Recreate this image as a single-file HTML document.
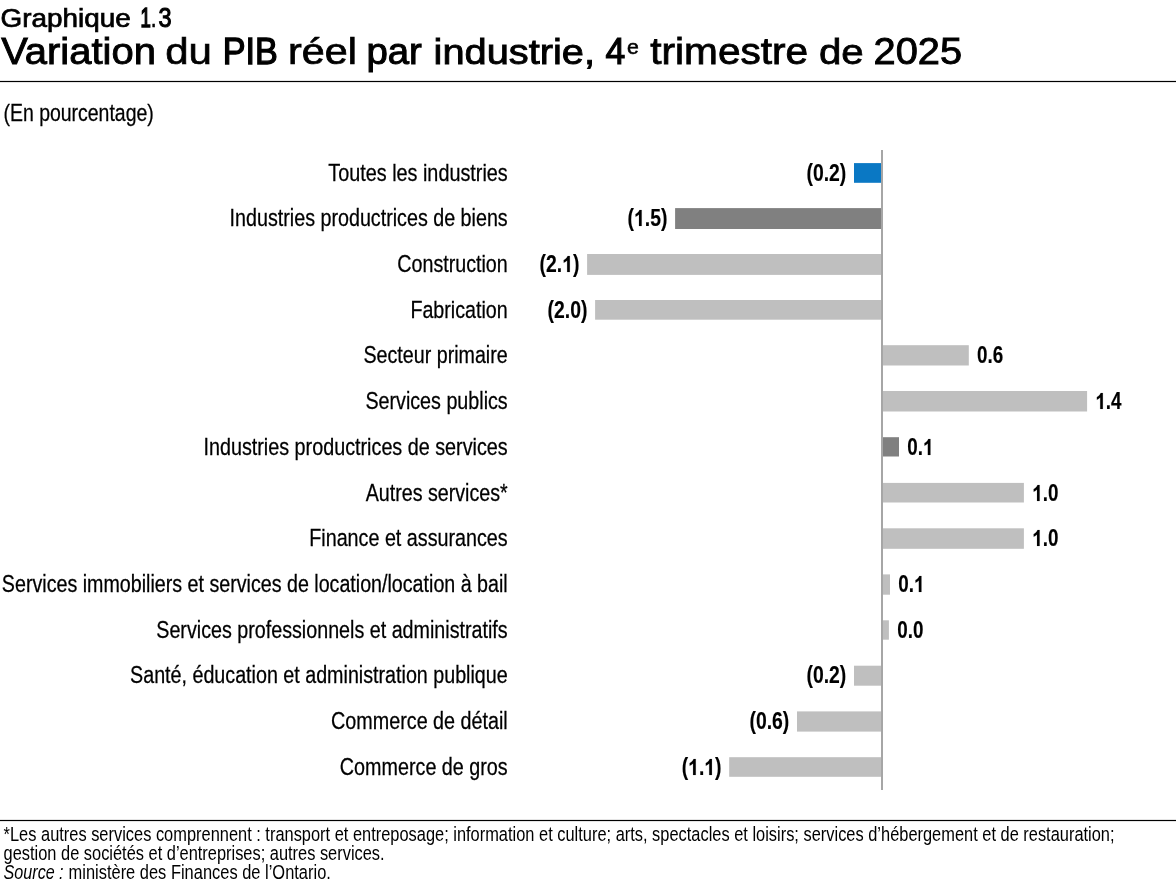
<!DOCTYPE html>
<html lang="fr"><head><meta charset="utf-8"><title>Graphique 1.3</title>
<style>
html,body{margin:0;padding:0;background:#fff;}
body{width:1176px;height:888px;overflow:hidden;font-family:"Liberation Sans",sans-serif;}
svg{will-change:transform;display:block;position:absolute;left:0;top:0}
text{font-family:"Liberation Sans",sans-serif;fill:#000}
.t1{font-size:25.8px;stroke:#000;stroke-width:.3px}
.t2{font-size:36px;stroke:#000;stroke-width:.45px}
.sup{font-size:20.5px;stroke:#000;stroke-width:.3px}
.lab{font-size:23.7px;stroke:#000;stroke-width:.26px}
.val{font-size:23.2px;font-weight:bold;stroke:#000;stroke-width:.15px}
.fn{font-size:19.3px}
.fi{font-style:italic}
.h{fill:none;stroke:none}
.one{fill:#000;stroke:#000;stroke-width:13px;stroke-linejoin:miter}
</style></head><body>
<svg width="1176" height="888" viewBox="0 0 1176 888">
<rect width="1176" height="888" fill="#fff"/>

<text class="t1" style="stroke-width:0.71px" transform="translate(0.60,26.5) scale(1.0815,1)">Graphique</text>
<text class="t1" style="stroke-width:1.50px" transform="translate(140.62,26.5) scale(0.7172,1.04)">1</text>
<text class="t1" style="stroke-width:0.55px" transform="translate(150.69,26.5) scale(0.8169,1.04)">.</text>
<text class="t1" style="stroke-width:1.05px" transform="translate(158.38,26.5) scale(0.9101,1.04)">3</text>
<text class="t2" style="stroke-width:0.88px" transform="translate(1.19,64) scale(1.1094,1)">Variation</text>
<text class="t2" style="stroke-width:0.63px" transform="translate(165.20,64) scale(1.1687,1)">du</text>
<text class="t2" style="stroke-width:1.30px" transform="translate(222.72,64) scale(0.9500,1)">PIB</text>
<text class="t2" style="stroke-width:0.71px" transform="translate(288.01,64) scale(1.1491,1)">réel</text>
<text class="t2" style="stroke-width:0.99px" transform="translate(366.40,64) scale(1.0659,1)">par</text>
<text class="t2" style="stroke-width:0.89px" transform="translate(433.58,64) scale(1.1059,1)">industrie,</text>
<text class="t2" style="stroke-width:1.16px" transform="translate(605.47,64) scale(0.9873,1.04)">4</text>
<text class="t2" style="stroke-width:0.81px" transform="translate(650.26,64) scale(1.1280,1)">trimestre</text>
<text class="t2" style="stroke-width:0.79px" transform="translate(818.92,64) scale(1.1183,1)">de</text>
<text class="t2" style="stroke-width:0.87px" transform="translate(873.58,64) scale(1.1059,1.04)">2025</text>
<text class="sup" style="stroke-width:0.55px" transform="translate(626.89,54.0) scale(1.0390,1)">e</text>
<rect x="0" y="80.9" width="1176" height="1.2" fill="#000"/>
<text class="lab" transform="translate(3.48,120.8) scale(0.8209,1)">(En pourcentage)</text>
<rect x="881.0" y="150" width="2" height="640" fill="#a6a6a6"/>
<rect x="854.0" y="163.1" width="27.0" height="19.7" fill="#0a78c4"/>
<text class="val" transform="translate(806.47,181.00) scale(0.835,1)">(0.2)</text>
<text class="lab" text-anchor="end" transform="translate(507.7,181.00) scale(0.8359,1)">Toutes les industries</text>
<rect x="675.1" y="208.1" width="205.9" height="20.9" fill="#808080"/>
<text class="val" transform="translate(627.57,226.00) scale(0.835,1)">(<tspan class="h">1</tspan>.5)</text>
<path class="one" d="M806 0H525V1059Q371 915 162 846V1101Q272 1137 401 1237.5T578 1472H806Z" transform="translate(634.02,226.00) scale(0.009459,-0.010889)"/>
<text class="lab" text-anchor="end" transform="translate(507.7,226.00) scale(0.8317,1)">Industries productrices de biens</text>
<rect x="587.1" y="254.0" width="293.9" height="20.9" fill="#bfbfbf"/>
<text class="val" transform="translate(539.57,272.00) scale(0.835,1)">(2.<tspan class="h">1</tspan>)</text>
<path class="one" d="M806 0H525V1059Q371 915 162 846V1101Q272 1137 401 1237.5T578 1472H806Z" transform="translate(562.18,272.00) scale(0.009459,-0.010889)"/>
<text class="lab" text-anchor="end" transform="translate(507.7,272.00) scale(0.8305,1)">Construction</text>
<rect x="595.1" y="300.0" width="285.9" height="19.7" fill="#bfbfbf"/>
<text class="val" transform="translate(547.57,318.00) scale(0.835,1)">(2.0)</text>
<text class="lab" text-anchor="end" transform="translate(507.7,318.00) scale(0.8306,1)">Fabrication</text>
<rect x="883.0" y="345.2" width="85.8" height="20.3" fill="#bfbfbf"/>
<text class="val" transform="translate(977.10,363.00) scale(0.812,1)">0.6</text>
<text class="lab" text-anchor="end" transform="translate(507.7,363.00) scale(0.8300,1)">Secteur primaire</text>
<rect x="883.0" y="391.0" width="204.1" height="20.5" fill="#bfbfbf"/>
<text class="val" transform="translate(1095.40,409.00) scale(0.812,1)"><tspan class="h">1</tspan>.4</text>
<path class="one" d="M806 0H525V1059Q371 915 162 846V1101Q272 1137 401 1237.5T578 1472H806Z" transform="translate(1095.40,409.00) scale(0.009198,-0.010889)"/>
<text class="lab" text-anchor="end" transform="translate(507.7,409.00) scale(0.8316,1)">Services publics</text>
<rect x="883.0" y="437.2" width="16.0" height="19.3" fill="#808080"/>
<text class="val" transform="translate(907.30,455.00) scale(0.812,1)">0.<tspan class="h">1</tspan></text>
<path class="one" d="M806 0H525V1059Q371 915 162 846V1101Q272 1137 401 1237.5T578 1472H806Z" transform="translate(923.01,455.00) scale(0.009198,-0.010889)"/>
<text class="lab" text-anchor="end" transform="translate(507.7,455.00) scale(0.8343,1)">Industries productrices de services</text>
<rect x="883.0" y="482.9" width="140.9" height="19.6" fill="#bfbfbf"/>
<text class="val" transform="translate(1032.20,501.00) scale(0.812,1)"><tspan class="h">1</tspan>.0</text>
<path class="one" d="M806 0H525V1059Q371 915 162 846V1101Q272 1137 401 1237.5T578 1472H806Z" transform="translate(1032.20,501.00) scale(0.009198,-0.010889)"/>
<text class="lab" text-anchor="end" transform="translate(507.7,501.00) scale(0.8298,1)">Autres services*</text>
<rect x="883.0" y="528.3" width="140.9" height="20.5" fill="#bfbfbf"/>
<text class="val" transform="translate(1032.20,546.00) scale(0.812,1)"><tspan class="h">1</tspan>.0</text>
<path class="one" d="M806 0H525V1059Q371 915 162 846V1101Q272 1137 401 1237.5T578 1472H806Z" transform="translate(1032.20,546.00) scale(0.009198,-0.010889)"/>
<text class="lab" text-anchor="end" transform="translate(507.7,546.00) scale(0.8326,1)">Finance et assurances</text>
<rect x="883.0" y="574.4" width="7.0" height="20.3" fill="#bfbfbf"/>
<text class="val" transform="translate(898.30,592.00) scale(0.812,1)">0.<tspan class="h">1</tspan></text>
<path class="one" d="M806 0H525V1059Q371 915 162 846V1101Q272 1137 401 1237.5T578 1472H806Z" transform="translate(914.01,592.00) scale(0.009198,-0.010889)"/>
<text class="lab" text-anchor="end" transform="translate(507.7,592.00) scale(0.8298,1)">Services immobiliers et services de location/location à bail</text>
<rect x="883.0" y="620.3" width="5.9" height="19.4" fill="#bfbfbf"/>
<text class="val" transform="translate(897.20,638.00) scale(0.812,1)">0.0</text>
<text class="lab" text-anchor="end" transform="translate(507.7,638.00) scale(0.8318,1)">Services professionnels et administratifs</text>
<rect x="854.0" y="665.7" width="27.0" height="20.0" fill="#bfbfbf"/>
<text class="val" transform="translate(806.47,683.00) scale(0.835,1)">(0.2)</text>
<text class="lab" text-anchor="end" transform="translate(507.7,683.00) scale(0.8311,1)">Santé, éducation et administration publique</text>
<rect x="797.0" y="711.4" width="84.0" height="20.2" fill="#bfbfbf"/>
<text class="val" transform="translate(749.47,729.00) scale(0.835,1)">(0.6)</text>
<text class="lab" text-anchor="end" transform="translate(507.7,729.00) scale(0.8333,1)">Commerce de détail</text>
<rect x="729.2" y="757.2" width="151.8" height="19.6" fill="#bfbfbf"/>
<text class="val" transform="translate(681.67,775.00) scale(0.835,1)">(<tspan class="h">1</tspan>.<tspan class="h">1</tspan>)</text>
<path class="one" d="M806 0H525V1059Q371 915 162 846V1101Q272 1137 401 1237.5T578 1472H806Z" transform="translate(688.12,775.00) scale(0.009459,-0.010889)"/>
<path class="one" d="M806 0H525V1059Q371 915 162 846V1101Q272 1137 401 1237.5T578 1472H806Z" transform="translate(704.28,775.00) scale(0.009459,-0.010889)"/>
<text class="lab" text-anchor="end" transform="translate(507.7,775.00) scale(0.8338,1)">Commerce de gros</text>
<rect x="0" y="819.9" width="1176" height="1.2" fill="#000"/>
<text class="fn" transform="translate(3.60,840.9) scale(0.8508,1)">*Les autres services comprennent : transport et entreposage; information et culture; arts, spectacles et loisirs; services d’hébergement et de restauration;</text>
<text class="fn" transform="translate(3.60,859.9) scale(0.8499,1)">gestion de sociétés et d’entreprises; autres services.</text>
<text class="fn fi" transform="translate(3.60,878.7) scale(0.8356,1)">Source :</text>
<text class="fn" transform="translate(68.55,878.7) scale(0.8525,1)">ministère des Finances de l’Ontario.</text>
</svg>
</body></html>
